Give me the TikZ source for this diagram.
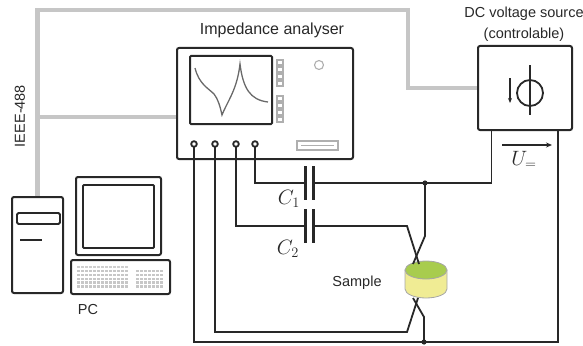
\documentclass[tikz,border=0pt]{standalone}
\usepackage{fontspec}
\setmainfont{Liberation Sans}
\usetikzlibrary{arrows.meta,calc}
\definecolor{ink}{RGB}{40,40,40}
\definecolor{bus}{RGB}{198,198,198}
\definecolor{trim}{RGB}{175,175,175}
\definecolor{trace}{RGB}{105,105,105}
\definecolor{sampletop}{RGB}{168,204,78}
\definecolor{sampleside}{RGB}{240,236,148}
\begin{document}
\begin{tikzpicture}[x=1pt,y=-1pt,
		wire/.style={draw=ink,line width=1.8pt},
		bus/.style={draw=bus,line width=4.5pt},
		case/.style={draw=ink,line width=2pt,rounded corners=2pt,inner sep=0pt},
		trim/.style={draw=trim,line width=1.1pt},
		plate/.style={draw=ink,line width=3pt},
		lbl/.style={font=\fontsize{14.5}{16}\selectfont,text=ink,inner sep=0pt},
		sym/.style={font=\fontsize{20}{22}\selectfont,text=ink,inner sep=0pt}]
	\useasboundingbox (0,0) rectangle (583,345);
	% instruments and computer
	\node[case,minimum width=176pt,minimum height=111pt] (ana) at (265,103.5) {};
	\node[case,minimum width=94pt,minimum height=84pt] (dc) at (525,88) {};
	\node[case,minimum width=51pt,minimum height=96pt] (tower) at (37.5,245) {};
	\node[case,minimum width=85pt,minimum height=78pt] (mon) at (118.5,216) {};
	\node[case,minimum width=99pt,minimum height=34pt] (kbd) at (120.5,277) {};
	% labels
	\node[lbl,font=\fontsize{16}{18}\selectfont] (analbl) at (272,30) {Impedance analyser};
	\node[lbl] (dclbl) at (524,14) {DC voltage source};
	\node[lbl] (dcsub) at (524,35) {(controlable)};
	\node[lbl,rotate=90] (ieee) at (20,116) {IEEE-488};
	\node[lbl] (pclbl) at (88,310) {PC};
	\node[lbl] (smplbl) at (357,283) {Sample};
	% IEEE-488 bus
	\path (tower.north) ++(0,-79) coordinate (tap);
	\draw[bus] (tower.north) |- (408,10) coordinate (bend) -- (bend |- dc.west) -- (dc.west);
	\draw[bus] (tap) -- (tap -| ana.west);
	% analyser front panel
	\draw[ink,line width=2pt,rounded corners=1pt] (190,56) rectangle (272,124);
	\draw[trace,line width=1.3pt] (195,68) .. controls (199,84) and (208,88) .. (214,94)
		.. controls (218,99) and (220,106) .. (222,115)
		.. controls (228,100) and (237,90) .. (240,64)
		.. controls (243,88) and (250,100) .. (268,102);
	\foreach \y in {60,67,74,81,96,103,110,117}
		\draw[trim] (277,\y) rectangle ++(6,5);
	\draw[trim] (319,65) circle (4.5);
	\draw[trim] (297,141) rectangle (338,150);
	\draw[trim] (301,145.5) -- (334,145.5);
	% computer details
	\draw[ink,line width=1.8pt,rounded corners=1.5pt] (17,213) rectangle (60,224);
	\draw[ink,line width=1.8pt] (20,240) -- (42,240);
	\draw[ink,line width=1.8pt,rounded corners=1pt] (83,185) rectangle (154,248);
	\foreach \c in {0,...,12}{
		\fill[trim!60] (77+4*\c,266) rectangle ++(2.5,1.5);
		\foreach \r in {0,...,4}
			\fill[trim!70] (77+4*\c,270+3.8*\r) rectangle ++(3,2.4);
	}
	\foreach \c in {0,...,6}
		\foreach \r in {0,...,4}
			\fill[trim!70] (136+4*\c,270+3.8*\r) rectangle ++(3,2.4);
	% DC source symbol
	\draw[wire] (530,93) circle (13);
	\draw[wire] (530,65) -- (530,115);
	\draw[wire,-{Stealth[length=5pt,width=4pt]}] (510,78) -- (510,103);
	\draw[wire,-{Stealth[length=6pt,width=5pt]}] (502,145) -- (552,145);
	\node[sym] (ulbl) at (524,160) {$U_=$};
	% sample
	\coordinate (smp) at (426,270);
	\filldraw[fill=sampleside,draw=gray!70,line width=0.8pt] (405,270) -- (405,289)
		arc[start angle=180,end angle=0,x radius=21,y radius=9] -- (447,270) -- cycle;
	\filldraw[fill=sampletop,draw=gray!70,line width=0.8pt] (smp) ellipse [x radius=21,y radius=9];
	% wiring
	\foreach \n/\x in {1/194,2/215,3/236,4/255}
		\coordinate (t\n) at (\x,144);
	\coordinate (c1l) at (305,183);
	\coordinate (c1r) at (313,183);
	\coordinate (c2l) at (305,226);
	\coordinate (c2r) at (313,226);
	\coordinate (j1) at (425,183);
	\coordinate (j2) at (424,342);
	\coordinate (s1) at (419,264);
	\coordinate (s2) at (413,264);
	\coordinate (s3) at (413,298);
	\coordinate (s4) at (418,298);
	\coordinate (dcp) at ($(dc.south west)!.15!(dc.south east)$);
	\coordinate (dcm) at ($(dc.south west)!.84!(dc.south east)$);
	\draw[wire] (t4) |- (c1l);
	\draw[wire] (c1r) -- (j1) -| (dcp);
	\draw[wire] (t3) |- (c2l);
	\draw[wire] (c2r) -- (407,226) -- (s1);
	\draw[wire] (j1) -- (425,236) -- (s2);
	\draw[wire] (t2) |- (407,332) -- (s4);
	\draw[wire] (t1) |- (j2) -| (dcm);
	\draw[wire] (j2) -- (424,317) -- (s3);
	\foreach \p in {c1l,c1r,c2l,c2r}
		\draw[plate] (\p) ++(0,-17) -- ++(0,34);
	\foreach \n in {1,...,4}
		\draw[wire,fill=white] (t\n) circle (2.8);
	\fill[ink] (j1) circle (2.6) (j2) circle (2.6);
	\node[sym] (c1lbl) at (289,199) {$C_1$};
	\node[sym] (c2lbl) at (288,249) {$C_2$};
\end{tikzpicture}
\end{document}
